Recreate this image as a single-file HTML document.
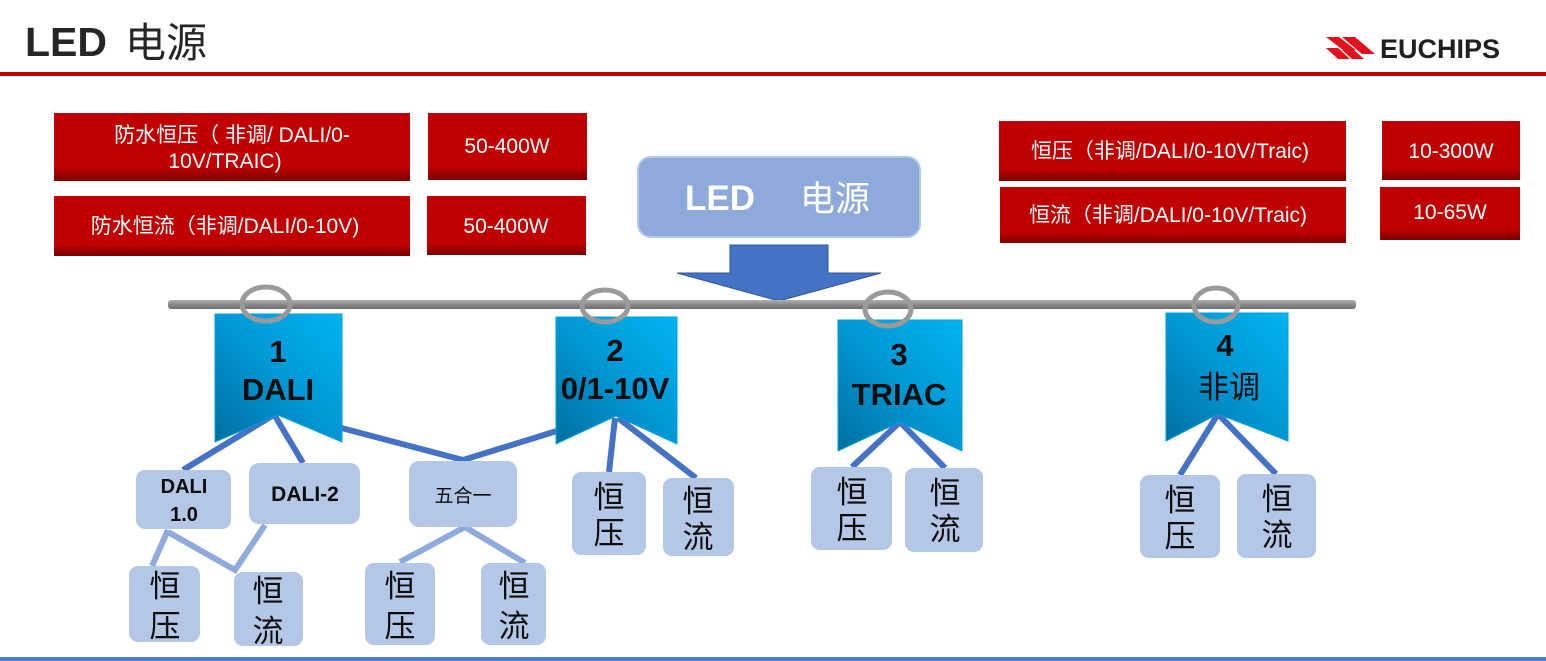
<!DOCTYPE html>
<html><head><meta charset="utf-8"><style>
body{margin:0;background:#fff;width:1546px;height:661px;overflow:hidden}
svg{display:block}
text{font-family:"Liberation Sans","Noto Sans CJK SC",sans-serif}
</style></head><body>
<svg width="1546" height="661" viewBox="0 0 1546 661" xmlns="http://www.w3.org/2000/svg">
<defs>
<linearGradient id="rb" x1="0" y1="0" x2="0" y2="1"><stop offset="0.8" stop-color="#c00000"/><stop offset="1" stop-color="#7a0000"/></linearGradient>
<linearGradient id="bn" x1="0" y1="1" x2="1" y2="0"><stop offset="0" stop-color="#006f9f"/><stop offset="0.5" stop-color="#0097d4"/><stop offset="1" stop-color="#00b4f0"/></linearGradient>
<linearGradient id="bar" x1="0" y1="0" x2="0" y2="1"><stop offset="0" stop-color="#b0b0b0"/><stop offset="0.5" stop-color="#8a8a8a"/><stop offset="1" stop-color="#6e6e6e"/></linearGradient>
</defs>
<text x="25" y="56" font-size="41" font-weight="bold" fill="#262626">LED</text>
<text x="125" y="57" font-size="41" fill="#262626" font-family="'Noto Sans CJK SC',sans-serif">电源</text>
<g fill="#e3101e"><polygon points="1326,37 1339,37 1356,50 1343,50"/><polygon points="1342,37 1355,37 1375,54 1362,54"/><polygon points="1326,48 1338,48 1350,59 1338,59"/><polygon points="1342,50 1354,50 1364,59 1352,59"/></g>
<text x="1380" y="58" font-size="27" font-weight="bold" fill="#231f20">EUCHIPS</text>
<rect x="0" y="72" width="1546" height="4" fill="#c00000"/>
<rect x="0" y="657" width="1546" height="4" fill="#4a7fc8"/>
<g fill="url(#rb)">
<rect x="54" y="113" width="356" height="68"/><rect x="428" y="113" width="159" height="67"/>
<rect x="54" y="196" width="356" height="60"/><rect x="427" y="196" width="159" height="59"/>
<rect x="999" y="121" width="347" height="60"/><rect x="1382" y="121" width="138" height="59"/>
<rect x="1000" y="187" width="346" height="56"/><rect x="1380" y="187" width="140" height="53"/>
</g>
<g fill="#fff" font-size="21" text-anchor="middle">
<text x="232" y="142">防水恒压（ 非调/ DALI/0-</text><text x="225" y="168">10V/TRAIC)</text>
<text x="507" y="153">50-400W</text>
<text x="225" y="233">防水恒流（非调/DALI/0-10V)</text>
<text x="506" y="233">50-400W</text>
<text x="1170" y="158" font-size="21">恒压（非调/DALI/0-10V/Traic)</text>
<text x="1451" y="158">10-300W</text>
<text x="1168" y="222" font-size="21">恒流（非调/DALI/0-10V/Traic)</text>
<text x="1450" y="219">10-65W</text>
</g>
<rect x="638" y="157" width="282" height="80" rx="13" fill="#8eaadb" stroke="#b4c7e7" stroke-width="2"/>
<text x="685" y="210" font-size="35" font-weight="bold" fill="#fff">LED</text>
<text x="800" y="211" font-size="35" fill="#fff">电源</text>
<polygon points="730,245 828,245 828,273 881,273 779,301 677,273 730,273" fill="#4472c4" stroke="#2f5597" stroke-width="1"/>
<rect x="168" y="300" width="1188" height="9" rx="3" fill="url(#bar)"/>
<g stroke="#4472c4" stroke-width="6" fill="none">
<line x1="272" y1="416" x2="183" y2="470"/><line x1="275" y1="416" x2="303" y2="463"/>
<polyline points="330,425 463,460 560,430"/>
<line x1="615" y1="418" x2="609" y2="472"/><line x1="618" y1="418" x2="696" y2="478"/>
<line x1="900" y1="422" x2="852" y2="467"/><line x1="900" y1="422" x2="945" y2="468"/>
<line x1="1218" y1="414" x2="1180" y2="475"/><line x1="1218" y1="414" x2="1276" y2="474"/>
</g>
<g stroke="#8faadc" stroke-width="6" fill="none">
<line x1="168" y1="530" x2="152" y2="566"/><polyline points="168,532 235,570 265,525"/>
<line x1="465" y1="527" x2="400" y2="562"/><line x1="465" y1="527" x2="525" y2="563"/>
</g>
<g fill="url(#bn)" stroke="#00a0e0" stroke-width="1">
<polygon points="215,314 342,314 342,442 278,415 215,442"/>
<polygon points="556,317 677,317 677,444 616,416 556,444"/>
<polygon points="838,320 962,320 962,451 900,422 838,451"/>
<polygon points="1166,313 1288,313 1288,441 1218,414 1166,441"/>
</g>
<g fill="none" stroke="#9a9a9a" stroke-width="5">
<ellipse cx="266" cy="304" rx="24" ry="17"/><ellipse cx="605" cy="306" rx="23" ry="16"/>
<ellipse cx="888" cy="309" rx="23" ry="17"/><ellipse cx="1216" cy="305" rx="22" ry="17"/>
</g>
<g fill="#0d0d0d" font-weight="bold" text-anchor="middle" font-size="31">
<text x="278" y="362">1</text><text x="278" y="400">DALI</text>
<text x="615" y="361">2</text><text x="615" y="399">0/1-10V</text>
<text x="899" y="365">3</text><text x="899" y="405">TRIAC</text>
<text x="1225" y="356">4</text><text x="1229" y="398" font-weight="normal">非调</text>
</g>
<g fill="#b4c7e7">
<rect x="136" y="470" width="95" height="59" rx="9"/><rect x="249" y="463" width="111" height="61" rx="10"/>
<rect x="409" y="461" width="108" height="66" rx="10"/>
<rect x="572" y="472" width="74" height="83" rx="9"/><rect x="663" y="478" width="71" height="78" rx="9"/>
<rect x="811" y="467" width="81" height="83" rx="9"/><rect x="905" y="468" width="78" height="84" rx="9"/>
<rect x="1140" y="475" width="80" height="83" rx="9"/><rect x="1237" y="474" width="79" height="84" rx="9"/>
<rect x="129" y="566" width="71" height="76" rx="9"/><rect x="234" y="572" width="69" height="74" rx="9"/>
<rect x="365" y="563" width="70" height="82" rx="9"/><rect x="481" y="563" width="65" height="82" rx="9"/>
</g>
<g fill="#0d0d0d" text-anchor="middle">
<text x="184" y="493" font-size="20" font-weight="bold">DALI</text><text x="184" y="521" font-size="20" font-weight="bold">1.0</text>
<text x="305" y="501" font-size="21" font-weight="bold">DALI-2</text>
<text x="463" y="502" font-size="19">五合一</text>
</g>
<g fill="#0d0d0d" text-anchor="middle" font-size="31">
<text x="609" y="508">恒</text><text x="609" y="544">压</text>
<text x="698" y="512">恒</text><text x="698" y="548">流</text>
<text x="852" y="503">恒</text><text x="852" y="539">压</text>
<text x="945" y="504">恒</text><text x="945" y="540">流</text>
<text x="1180" y="511">恒</text><text x="1180" y="547">压</text>
<text x="1277" y="510">恒</text><text x="1277" y="546">流</text>
<text x="165" y="597">恒</text><text x="165" y="637">压</text>
<text x="268" y="602">恒</text><text x="268" y="642">流</text>
<text x="400" y="597">恒</text><text x="400" y="637">压</text>
<text x="514" y="597">恒</text><text x="514" y="637">流</text>
</g>
</svg>
</body></html>
